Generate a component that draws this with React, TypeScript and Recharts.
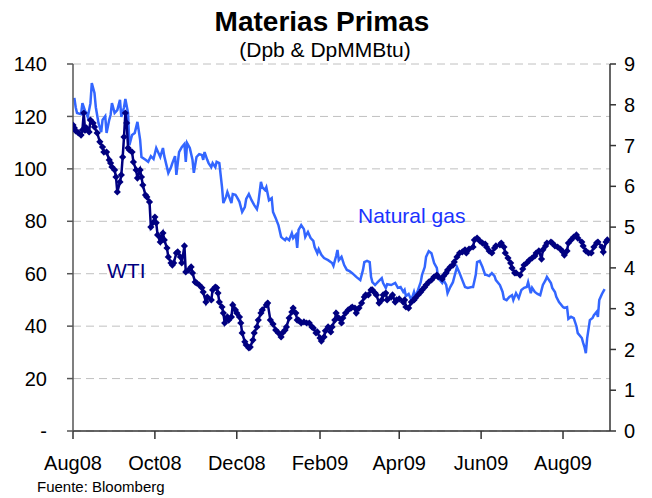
import { CartesianGrid, Line, LineChart, XAxis, YAxis } from "recharts";

// days counted from 1 Aug 2008
const xTickDays = [0, 61, 122, 184, 243, 304, 365];
const xTickLabels = ["Aug08", "Oct08", "Dec08", "Feb09", "Apr09", "Jun09", "Aug09"];
const leftTicks = [0, 20, 40, 60, 80, 100, 120, 140];
const rightTicks = [0, 1, 2, 3, 4, 5, 6, 7, 8, 9];

const wtiDays = [
  0, 1, 2, 4, 6, 7, 8, 9, 10, 12, 13, 15, 16, 18, 20, 22, 23, 25, 27, 28, 29, 31, 32, 33, 35, 36, 37, 38, 39, 40,
  41, 42, 44, 45, 47, 48, 50, 51, 52, 54, 55, 57, 58, 60, 61, 62, 63, 65, 66, 67, 68, 70, 71, 73, 74, 75, 77, 78,
  80, 81, 83, 84, 86, 88, 89, 91, 92, 94, 96, 97, 99, 100, 103, 104, 106, 107, 108, 109, 111, 112, 113, 115, 116,
  118, 119, 121, 122, 124, 125, 126, 128, 129, 131, 132, 134, 135, 137, 138, 140, 141, 144, 145, 147, 149, 151,
  153, 155, 156, 158, 159, 161, 163, 164, 166, 167, 168, 170, 172, 174, 176, 178, 179, 181, 182, 184, 185, 187,
  188, 190, 192, 193, 195, 196, 198, 200, 201, 203, 205, 207, 208, 210, 211, 213, 215, 217, 218, 220, 222, 223,
  225, 226, 228, 230, 231, 233, 234, 237, 238, 240, 241, 243, 246, 247, 248, 250, 252, 254, 255, 257, 259, 260,
  262, 263, 265, 267, 269, 271, 272, 275, 276, 278, 279, 281, 283, 284, 286, 288, 290, 292, 293, 295, 298, 299,
  301, 303, 305, 307, 308, 310, 312, 314, 315, 318, 319, 321, 322, 324, 326, 327, 329, 330, 333, 335, 336, 338,
  340, 342, 344, 345, 347, 349, 350, 352, 353, 356, 357, 359, 361, 363, 365, 366, 368, 369, 371, 373, 375, 376,
  379, 380, 382, 384, 386, 388, 390, 391, 394, 395, 397, 398,
];
const wtiPrices = [
  116.7, 115.6, 114.5, 113.7, 112.9, 114.8, 121.3, 114.8, 115.6, 114.1, 118.6, 117.5, 116.0, 113.7, 110.3, 108.3,
  106.4, 106.4, 103.4, 102.2, 100.7, 99.6, 96.9, 91.2, 95.0, 97.7, 104.5, 112.2, 121.3, 117.5, 108.0, 107.2, 106.4,
  102.6, 99.6, 96.5, 99.6, 96.9, 93.8, 90.0, 89.3, 87.4, 77.8, 79.7, 81.6, 79.4, 74.8, 72.1, 74.0, 75.5, 72.9, 69.8,
  66.4, 64.1, 63.3, 64.1, 67.9, 68.3, 66.4, 64.1, 70.6, 60.7, 61.4, 62.6, 60.3, 56.8, 56.5, 55.7, 54.6, 53.0, 49.2,
  51.1, 50.0, 53.8, 54.9, 54.6, 52.6, 49.2, 47.3, 45.0, 41.2, 43.5, 42.3, 43.5, 48.1, 46.2, 45.0, 43.5, 41.2, 37.4,
  34.0, 32.8, 31.7, 32.0, 34.7, 37.4, 39.7, 42.3, 45.0, 46.2, 48.1, 48.8, 42.3, 40.8, 38.5, 37.4, 35.9, 37.4, 38.5,
  39.7, 43.1, 45.4, 46.9, 45.0, 42.3, 42.3, 41.2, 41.6, 41.2, 41.2, 39.7, 39.3, 37.4, 37.8, 35.5, 34.3, 35.9, 38.2,
  39.7, 37.8, 39.7, 42.3, 45.0, 43.1, 41.2, 43.1, 45.0, 46.2, 46.9, 47.3, 46.9, 45.0, 46.9, 48.8, 51.1, 51.9, 51.9,
  53.8, 53.8, 52.6, 51.9, 48.8, 50.0, 51.9, 52.6, 50.0, 51.1, 51.9, 49.2, 50.0, 50.4, 49.2, 50.0, 47.3, 46.9, 49.2,
  50.0, 50.7, 51.9, 53.0, 53.8, 54.9, 55.7, 56.8, 57.6, 58.8, 59.5, 58.8, 58.0, 59.1, 60.3, 61.4, 62.6, 63.3, 64.5,
  66.4, 67.9, 68.3, 69.1, 67.9, 69.4, 70.2, 72.9, 73.6, 72.5, 71.7, 71.3, 70.2, 68.7, 67.9, 69.8, 70.6, 71.0, 71.7,
  70.2, 67.9, 66.0, 64.1, 62.2, 60.3, 60.3, 59.5, 61.8, 63.3, 64.1, 65.2, 66.0, 66.8, 67.9, 68.7, 65.6, 69.1, 70.6,
  71.7, 72.1, 71.7, 70.6, 70.2, 69.4, 68.3, 67.1, 68.7, 71.7, 72.9, 74.0, 74.8, 73.6, 72.1, 70.6, 68.7, 67.9, 67.9,
  70.2, 71.7, 72.1, 70.2, 68.3, 72.1, 72.9,
];

const gasDays = [
  1, 2, 3, 6, 7, 9, 10, 11, 13, 14, 16, 17, 19, 21, 22, 24, 25, 27, 28, 29, 31, 33, 35, 36, 38, 39, 41, 42, 44, 46,
  48, 50, 51, 54, 56, 58, 60, 62, 65, 67, 68, 71, 73, 74, 76, 77, 79, 81, 83, 84, 85, 87, 89, 90, 92, 94, 96, 97,
  98, 100, 101, 103, 104, 106, 107, 109, 111, 112, 114, 115, 118, 119, 121, 122, 124, 126, 128, 129, 131, 133,
  135, 137, 138, 140, 141, 143, 144, 146, 148, 149, 151, 153, 155, 156, 158, 159, 161, 163, 164, 166, 167, 168,
  170, 172, 173, 175, 177, 179, 180, 182, 183, 185, 187, 190, 193, 194, 196, 197, 198, 200, 202, 204, 206, 208,
  211, 214, 216, 217, 219, 221, 222, 223, 225, 227, 230, 231, 233, 234, 237, 240, 242, 244, 246, 247, 248, 250,
  252, 254, 255, 257, 259, 260, 262, 263, 265, 267, 269, 271, 272, 275, 276, 278, 279, 281, 283, 285, 286, 288,
  290, 292, 294, 297, 298, 300, 301, 303, 305, 307, 308, 310, 312, 314, 315, 318, 320, 321, 323, 325, 327, 328,
  330, 332, 334, 336, 338, 339, 341, 342, 344, 346, 348, 350, 352, 353, 356, 357, 359, 360, 362, 365, 366, 368,
  369, 371, 373, 375, 376, 379, 380, 381, 382, 383, 385, 387, 388, 390, 391, 392, 394, 396,
];
const gasPrices = [
  8.17, 7.94, 7.8, 7.77, 8.04, 7.85, 7.8, 7.7, 8.04, 8.53, 8.29, 7.94, 7.55, 7.33, 7.63, 7.72, 7.31, 7.63, 7.75,
  8.04, 7.8, 7.87, 8.12, 7.7, 7.94, 8.14, 7.8, 7.01, 7.26, 7.31, 7.58, 7.14, 6.72, 6.65, 6.6, 6.74, 6.67, 6.94,
  6.72, 6.94, 6.74, 6.33, 6.47, 6.57, 6.74, 6.28, 6.84, 6.96, 7.04, 6.6, 7.06, 6.94, 6.65, 6.33, 6.72, 6.79, 6.77,
  6.65, 6.84, 6.65, 6.57, 6.47, 6.57, 6.47, 6.6, 6.57, 5.98, 5.59, 5.74, 5.86, 5.59, 5.81, 5.79, 5.74, 5.62, 5.37,
  5.49, 5.69, 5.81, 5.66, 5.54, 5.44, 5.59, 6.11, 5.98, 5.91, 5.98, 5.66, 5.71, 5.37, 5.22, 5.05, 4.76, 4.73, 4.68,
  4.73, 4.68, 4.85, 4.73, 4.81, 4.49, 4.93, 5.05, 4.95, 4.76, 4.88, 4.73, 4.66, 4.51, 4.36, 4.46, 4.32, 4.24, 4.19,
  4.12, 4.05, 4.29, 4.44, 4.19, 4.27, 4.07, 3.95, 3.92, 3.87, 3.78, 3.7, 3.95, 4.14, 4.17, 4.14, 3.78, 3.65, 3.58,
  3.65, 3.75, 3.63, 3.51, 3.6, 3.58, 3.63, 3.51, 3.53, 3.41, 3.46, 3.31, 3.36, 3.21, 3.41, 3.29, 3.46, 3.65, 3.83,
  4.02, 4.27, 4.41, 4.36, 4.12, 4.0, 3.75, 3.63, 3.7, 3.58, 3.38, 3.53, 3.65, 3.9, 4.02, 3.87, 3.7, 3.53, 3.51,
  3.53, 3.53, 3.83, 4.14, 4.17, 4.02, 3.83, 3.83, 3.8, 3.87, 3.8, 3.7, 3.58, 3.41, 3.24, 3.21, 3.29, 3.33, 3.21,
  3.38, 3.26, 3.46, 3.51, 3.53, 3.65, 3.38, 3.51, 3.41, 3.36, 3.33, 3.58, 3.7, 3.78, 3.63, 3.51, 3.41, 3.29, 3.16,
  3.04, 3.02, 3.04, 2.75, 2.8, 2.77, 2.57, 2.4, 2.28, 2.16, 2.06, 1.91, 2.28, 2.72, 2.77, 2.84, 2.92, 2.8, 3.21,
  3.36, 3.48,
];

const wtiData = wtiDays.map((day, i) => ({ day, wti: wtiPrices[i] }));
const gasData = gasDays.map((day, i) => ({ day, gas: gasPrices[i] }));

const font = "'Liberation Sans', Arial, sans-serif";
const tickStyle = { fill: "#000", fontSize: 20, fontFamily: font };

const Diamond = (props: any) => {
  const { cx, cy, index } = props;
  if (cx == null || cy == null) return null;
  const r = 3.6;
  return <path key={index} d={`M${cx},${cy - r}L${cx + r},${cy}L${cx},${cy + r}L${cx - r},${cy}Z`} fill="#000080" />;
};

export default function App() {
  return (
    <div style={{ position: "relative", width: 652, height: 498, background: "#fff" }}>
      <style>{`body{margin:0}`}</style>
      <LineChart width={652} height={498} margin={{ top: 64, right: 0, bottom: 37, left: 0 }}>
        <CartesianGrid yAxisId="left" vertical={false} stroke="#c0c0c0" strokeDasharray="8 5" />
        <XAxis
          dataKey="day"
          type="number"
          domain={[0, 400]}
          allowDataOverflow
          ticks={xTickDays}
          tickFormatter={(v) => xTickLabels[xTickDays.indexOf(v)] ?? ""}
          tick={tickStyle}
          tickSize={8}
          tickMargin={17}
          height={30}
          stroke="#333"
          strokeWidth={1.5}
          interval={0}
        />
        <YAxis
          yAxisId="left"
          domain={[0, 140]}
          ticks={leftTicks}
          tickFormatter={(v) => (v === 0 ? "-" : String(v))}
          tick={tickStyle}
          tickSize={6}
          tickMargin={20}
          width={73}
          stroke="#555"
          strokeWidth={1.5}
          interval={0}
        />
        <YAxis
          yAxisId="right"
          orientation="right"
          domain={[0, 9]}
          ticks={rightTicks}
          tick={tickStyle}
          tickSize={6}
          tickMargin={8}
          width={42}
          stroke="#333"
          strokeWidth={1.5}
          interval={0}
        />
        <Line
          data={gasData}
          yAxisId="right"
          dataKey="gas"
          type="linear"
          stroke="#3366ff"
          strokeWidth={2.5}
          dot={false}
          isAnimationActive={false}
        />
        <Line
          data={wtiData}
          yAxisId="left"
          dataKey="wti"
          type="linear"
          stroke="#000080"
          strokeWidth={2.5}
          dot={Diamond}
          isAnimationActive={false}
        />
      </LineChart>
      <svg width={652} height={498} style={{ position: "absolute", left: 0, top: 0, pointerEvents: "none" }}>
        <text x={322} y={31} textAnchor="middle" fontFamily={font} fontWeight="bold" fontSize={28} fill="#000">
          Materias Primas
        </text>
        <text x={325} y={57} textAnchor="middle" fontFamily={font} fontSize={21} fill="#000">
          (Dpb &amp; DpMMBtu)
        </text>
        <text x={358} y={223} fontFamily={font} fontSize={21} fill="#1a33ff">
          Natural gas
        </text>
        <text x={107} y={278} fontFamily={font} fontSize={21} fill="#000080">
          WTI
        </text>
        <text x={37} y={492} fontFamily={font} fontSize={15} fill="#000">
          Fuente: Bloomberg
        </text>
      </svg>
    </div>
  );
}
